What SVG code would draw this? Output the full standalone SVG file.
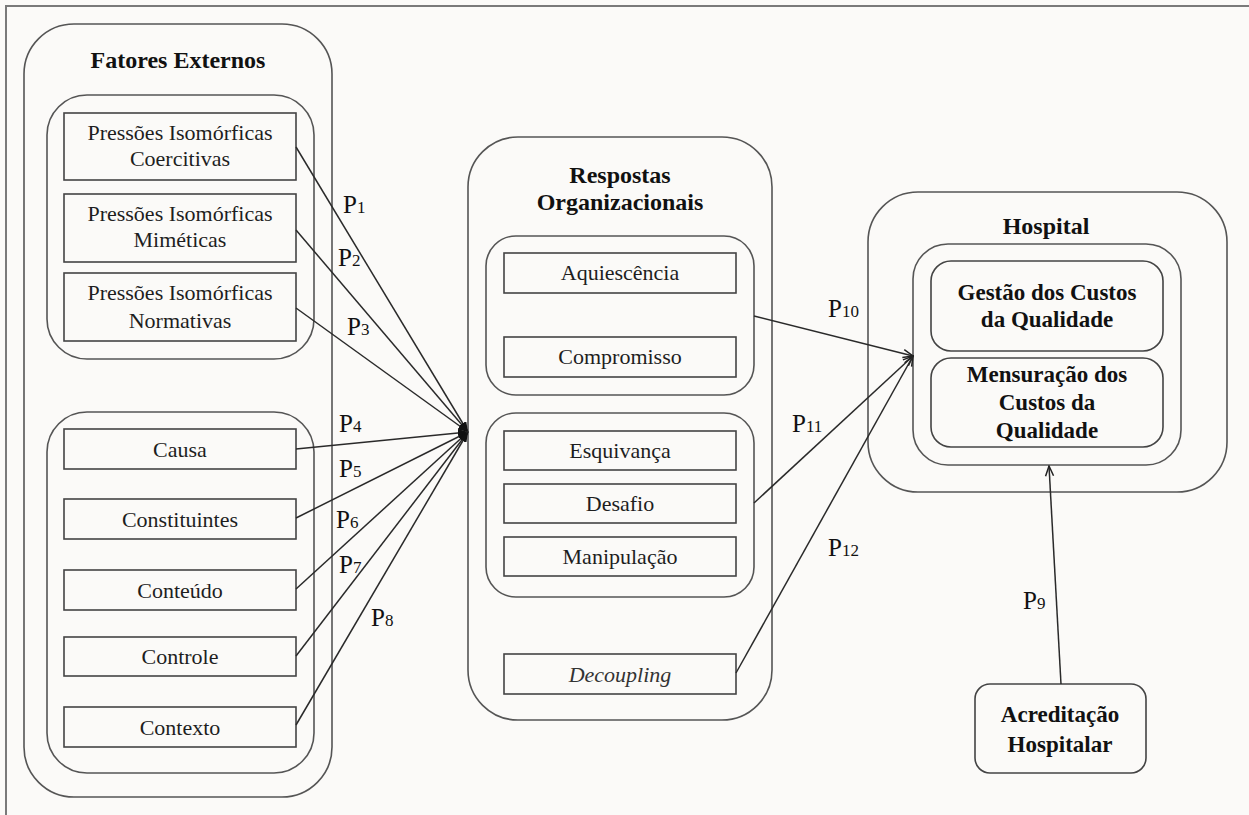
<svg xmlns="http://www.w3.org/2000/svg" width="1249" height="815" viewBox="0 0 1249 815">
  <style>
    .bg { fill: #fbfaf8; }
    .frame { fill: none; stroke: #7a7a7a; stroke-width: 2; }
    .grp { fill: none; stroke: #555; stroke-width: 1.6; }
    .box { fill: none; stroke: #444; stroke-width: 1.6; }
    .t { font-family: "Liberation Serif", "Times New Roman", serif; font-size: 22px; fill: #1e1e1e; text-anchor: middle; }
    .b { font-family: "Liberation Serif", "Times New Roman", serif; font-size: 23px; font-weight: bold; fill: #111; text-anchor: middle; }
    .h { font-family: "Liberation Serif", "Times New Roman", serif; font-size: 24px; font-weight: bold; fill: #111; text-anchor: middle; }
    .i { font-style: italic; fill: #333; }
    .p { font-family: "Liberation Serif", "Times New Roman", serif; font-size: 25px; fill: #111; }
    .sub { font-size: 17px; }
    .ln { fill: none; stroke: #2a2a2a; stroke-width: 1.5; }
  </style>
  <defs>
    <marker id="solid" viewBox="0 0 10 8" refX="10" refY="4" markerWidth="10" markerHeight="8" markerUnits="userSpaceOnUse" orient="auto">
      <path d="M0,0 L10,4 L0,8 z" fill="#111"/>
    </marker>
    <marker id="open" viewBox="0 0 12 10" refX="11" refY="5" markerWidth="12" markerHeight="10" markerUnits="userSpaceOnUse" orient="auto">
      <path d="M1,1 L11,5 L1,9" fill="none" stroke="#222" stroke-width="1.5"/>
    </marker>
  </defs>

  <rect class="bg" x="0" y="0" width="1249" height="815"/>
  <!-- page frame: top and left edges -->
  <path class="frame" d="M1249,6 H6 V815"/>

  <!-- External factors -->
  <g id="fatores-externos">
    <rect class="grp" x="24" y="24" width="308" height="773" rx="50"/>
    <text class="h" x="178" y="68">Fatores Externos</text>
  </g>
  <g id="pressoes">
    <rect class="grp" x="47" y="95" width="267" height="264" rx="40"/>
  </g>
  <g id="coercitivas">
    <rect class="box" x="64" y="113" width="232" height="67"/>
    <text class="t" x="180" y="140">Pressões Isomórficas</text>
    <text class="t" x="180" y="166">Coercitivas</text>
  </g>
  <g id="mimeticas">
    <rect class="box" x="64" y="194" width="232" height="68"/>
    <text class="t" x="180" y="221">Pressões Isomórficas</text>
    <text class="t" x="180" y="247">Miméticas</text>
  </g>
  <g id="normativas">
    <rect class="box" x="64" y="273" width="232" height="68"/>
    <text class="t" x="180" y="300">Pressões Isomórficas</text>
    <text class="t" x="180" y="328">Normativas</text>
  </g>
  <g id="fatores-institucionais">
    <rect class="grp" x="47" y="412" width="267" height="361" rx="40"/>
  </g>
  <g id="causa">
    <rect class="box" x="64" y="429" width="232" height="40"/>
    <text class="t" x="180" y="457">Causa</text>
  </g>
  <g id="constituintes">
    <rect class="box" x="64" y="499" width="232" height="40"/>
    <text class="t" x="180" y="527">Constituintes</text>
  </g>
  <g id="conteudo">
    <rect class="box" x="64" y="570" width="232" height="40"/>
    <text class="t" x="180" y="598">Conteúdo</text>
  </g>
  <g id="controle">
    <rect class="box" x="64" y="637" width="232" height="39"/>
    <text class="t" x="180" y="664">Controle</text>
  </g>
  <g id="contexto">
    <rect class="box" x="64" y="707" width="232" height="40"/>
    <text class="t" x="180" y="735">Contexto</text>
  </g>

  <!-- Organizational responses -->
  <g id="respostas">
    <rect class="grp" x="468" y="137" width="304" height="583" rx="50"/>
    <text class="h" x="620" y="183">Respostas</text>
    <text class="h" x="620" y="210">Organizacionais</text>
  </g>
  <g id="grupo-conformidade">
    <rect class="grp" x="486" y="236" width="268" height="159" rx="30"/>
  </g>
  <g id="aquiescencia">
    <rect class="box" x="504" y="253" width="232" height="40"/>
    <text class="t" x="620" y="280">Aquiescência</text>
  </g>
  <g id="compromisso">
    <rect class="box" x="504" y="337" width="232" height="40"/>
    <text class="t" x="620" y="364">Compromisso</text>
  </g>
  <g id="grupo-resistencia">
    <rect class="grp" x="486" y="413" width="268" height="184" rx="30"/>
  </g>
  <g id="esquivanca">
    <rect class="box" x="504" y="431" width="232" height="39"/>
    <text class="t" x="620" y="458">Esquivança</text>
  </g>
  <g id="desafio">
    <rect class="box" x="504" y="484" width="232" height="39"/>
    <text class="t" x="620" y="511">Desafio</text>
  </g>
  <g id="manipulacao">
    <rect class="box" x="504" y="537" width="232" height="39"/>
    <text class="t" x="620" y="564">Manipulação</text>
  </g>
  <g id="decoupling">
    <rect class="box" x="504" y="654" width="232" height="40"/>
    <text class="t i" x="620" y="682">Decoupling</text>
  </g>

  <!-- Hospital -->
  <g id="hospital">
    <rect class="grp" x="868" y="192" width="359" height="300" rx="50"/>
    <text class="h" x="1046" y="234">Hospital</text>
  </g>
  <g id="custos-qualidade">
    <rect class="grp" x="913" y="244" width="268" height="221" rx="35"/>
  </g>
  <g id="gestao">
    <rect class="box" x="931" y="261" width="232" height="90" rx="20"/>
    <text class="b" x="1047" y="300">Gestão dos Custos</text>
    <text class="b" x="1047" y="327">da Qualidade</text>
  </g>
  <g id="mensuracao">
    <rect class="box" x="931" y="358" width="232" height="89" rx="20"/>
    <text class="b" x="1047" y="382">Mensuração dos</text>
    <text class="b" x="1047" y="410">Custos da</text>
    <text class="b" x="1047" y="438">Qualidade</text>
  </g>
  <g id="acreditacao">
    <rect class="box" x="975" y="684" width="171" height="89" rx="15"/>
    <text class="b" x="1060" y="722">Acreditação</text>
    <text class="b" x="1060" y="752">Hospitalar</text>
  </g>

  <!-- Connectors -->
  <g id="connectors">
    <line class="ln" x1="296" y1="147" x2="468" y2="432" marker-end="url(#solid)"/>
    <line class="ln" x1="296" y1="230" x2="468" y2="432" marker-end="url(#solid)"/>
    <line class="ln" x1="296" y1="308" x2="468" y2="432" marker-end="url(#solid)"/>
    <line class="ln" x1="296" y1="449" x2="468" y2="432" marker-end="url(#solid)"/>
    <line class="ln" x1="296" y1="518" x2="468" y2="432" marker-end="url(#solid)"/>
    <line class="ln" x1="296" y1="589" x2="468" y2="432" marker-end="url(#solid)"/>
    <line class="ln" x1="296" y1="656" x2="468" y2="432" marker-end="url(#solid)"/>
    <line class="ln" x1="296" y1="725" x2="468" y2="432" marker-end="url(#solid)"/>
    <line class="ln" x1="754" y1="316" x2="913" y2="356" marker-end="url(#open)"/>
    <line class="ln" x1="754" y1="503" x2="913" y2="356" marker-end="url(#open)"/>
    <line class="ln" x1="736" y1="673" x2="913" y2="356" marker-end="url(#open)"/>
    <line class="ln" x1="1061" y1="684" x2="1049" y2="466" marker-end="url(#open)"/>

    <text class="p" x="343" y="213">P<tspan class="sub">1</tspan></text>
    <text class="p" x="338" y="266">P<tspan class="sub">2</tspan></text>
    <text class="p" x="347" y="335">P<tspan class="sub">3</tspan></text>
    <text class="p" x="339" y="432">P<tspan class="sub">4</tspan></text>
    <text class="p" x="339" y="477">P<tspan class="sub">5</tspan></text>
    <text class="p" x="336" y="528">P<tspan class="sub">6</tspan></text>
    <text class="p" x="339" y="573">P<tspan class="sub">7</tspan></text>
    <text class="p" x="371" y="626">P<tspan class="sub">8</tspan></text>
    <text class="p" x="1023" y="609">P<tspan class="sub">9</tspan></text>
    <text class="p" x="828" y="317">P<tspan class="sub">10</tspan></text>
    <text class="p" x="792" y="432">P<tspan class="sub">11</tspan></text>
    <text class="p" x="828" y="556">P<tspan class="sub">12</tspan></text>
  </g>
</svg>
